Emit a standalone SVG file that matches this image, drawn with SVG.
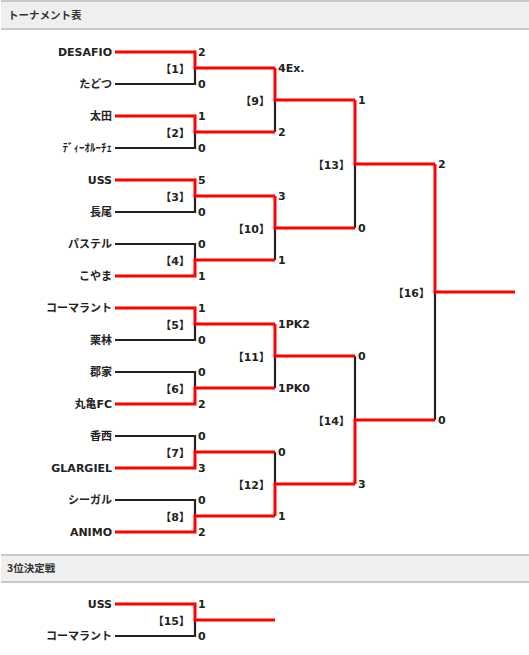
<svg xmlns="http://www.w3.org/2000/svg" width="529" height="655" viewBox="0 0 529 655">
<style>
.hdr{fill:#efefef}
.hl{stroke:#c8c8c8;stroke-width:2}
.ht{font-family:"Noto Sans CJK JP","DejaVu Sans",sans-serif;font-size:10.5px;font-weight:700;fill:#333}
.team{font-family:"DejaVu Sans","Noto Sans CJK JP",sans-serif;font-size:11px;font-weight:700;fill:#222;text-anchor:end}
.sc{font-family:"DejaVu Sans","Noto Sans CJK JP",sans-serif;font-size:11px;font-weight:700;fill:#222}
.lbl{font-family:"DejaVu Sans","Noto Sans CJK JP",sans-serif;font-size:11px;font-weight:700;fill:#222;text-anchor:end}
.blk{fill:none;stroke:#222;stroke-width:2.2}
.red{fill:none;stroke:#ff0000;stroke-width:3}
</style>
<g id="header1">
<rect class="hdr" x="1" y="1" width="528" height="28"/>
<line class="hl" x1="1" y1="1" x2="529" y2="1"/>
<line class="hl" x1="1" y1="29" x2="529" y2="29"/>
<text class="ht" x="8" y="19">トーナメント表</text>
</g>
<g id="header2">
<rect class="hdr" x="1" y="555" width="528" height="27"/>
<line class="hl" x1="1" y1="555" x2="529" y2="555"/>
<line class="hl" x1="1" y1="582" x2="529" y2="582"/>
<text class="ht" x="7" y="572">3位決定戦</text>
</g>
<g id="connectors">
<path class="blk" d="M115,84H195V68 M115,148H195V132 M115,212H195V196 M115,244H195V260 M115,340H195V324 M115,372H195V388 M115,436H195V452 M115,500H195V516 M275,132V100 M275,260V228 M275,388V356 M275,452V484 M355,228V164 M355,356V420 M435,420V292 M115,636H195V620"/>
<path class="red" d="M115,52H195V68H275 M115,116H195V132H275 M115,180H195V196H275 M115,276H195V260H275 M115,308H195V324H275 M115,404H195V388H275 M115,468H195V452H275 M115,532H195V516H275 M275,68V100H355 M275,196V228H355 M275,324V356H355 M275,516V484H355 M355,100V164H435 M355,484V420H435 M435,164V292H515 M115,604H195V620H275"/>
</g>
<g id="t-desafio"><text class="team" x="112" y="56">DESAFIO</text></g>
<g id="t-tadotsu"><text class="team" x="112" y="88">たどつ</text></g>
<g id="t-ota"><text class="team" x="112" y="120">太田</text></g>
<g id="t-dioruche"><text class="team" x="112" y="152">ﾃﾞｨｰｵﾙｰﾁｪ</text></g>
<g id="t-uss"><text class="team" x="112" y="184">USS</text></g>
<g id="t-nagao"><text class="team" x="112" y="216">長尾</text></g>
<g id="t-pastel"><text class="team" x="112" y="248">パステル</text></g>
<g id="t-koyama"><text class="team" x="112" y="280">こやま</text></g>
<g id="t-cormorant"><text class="team" x="112" y="312">コーマラント</text></g>
<g id="t-kuribayashi"><text class="team" x="112" y="344">栗林</text></g>
<g id="t-gunge"><text class="team" x="112" y="376">郡家</text></g>
<g id="t-marugame"><text class="team" x="112" y="408">丸亀FC</text></g>
<g id="t-kozai"><text class="team" x="112" y="440">香西</text></g>
<g id="t-glargiel"><text class="team" x="112" y="472">GLARGIEL</text></g>
<g id="t-seagull"><text class="team" x="112" y="504">シーガル</text></g>
<g id="t-animo"><text class="team" x="112" y="536">ANIMO</text></g>
<g id="t-uss2"><text class="team" x="112" y="608">USS</text></g>
<g id="t-cormorant2"><text class="team" x="112" y="640">コーマラント</text></g>
<g id="m1"><text class="lbl" x="190" y="73">【1】</text><text class="sc" x="198" y="56">2</text><text class="sc" x="198" y="88">0</text></g>
<g id="m2"><text class="lbl" x="190" y="137">【2】</text><text class="sc" x="198" y="120">1</text><text class="sc" x="198" y="152">0</text></g>
<g id="m3"><text class="lbl" x="190" y="201">【3】</text><text class="sc" x="198" y="184">5</text><text class="sc" x="198" y="216">0</text></g>
<g id="m4"><text class="lbl" x="190" y="265">【4】</text><text class="sc" x="198" y="248">0</text><text class="sc" x="198" y="280">1</text></g>
<g id="m5"><text class="lbl" x="190" y="329">【5】</text><text class="sc" x="198" y="312">1</text><text class="sc" x="198" y="344">0</text></g>
<g id="m6"><text class="lbl" x="190" y="393">【6】</text><text class="sc" x="198" y="376">0</text><text class="sc" x="198" y="408">2</text></g>
<g id="m7"><text class="lbl" x="190" y="457">【7】</text><text class="sc" x="198" y="440">0</text><text class="sc" x="198" y="472">3</text></g>
<g id="m8"><text class="lbl" x="190" y="521">【8】</text><text class="sc" x="198" y="504">0</text><text class="sc" x="198" y="536">2</text></g>
<g id="m9"><text class="lbl" x="270" y="105">【9】</text><text class="sc" x="278" y="72">4Ex.</text><text class="sc" x="278" y="136">2</text></g>
<g id="m10"><text class="lbl" x="270" y="233">【10】</text><text class="sc" x="278" y="200">3</text><text class="sc" x="278" y="264">1</text></g>
<g id="m11"><text class="lbl" x="270" y="361">【11】</text><text class="sc" x="278" y="328">1PK2</text><text class="sc" x="278" y="392">1PK0</text></g>
<g id="m12"><text class="lbl" x="270" y="489">【12】</text><text class="sc" x="278" y="456">0</text><text class="sc" x="278" y="520">1</text></g>
<g id="m13"><text class="lbl" x="350" y="169">【13】</text><text class="sc" x="358" y="104">1</text><text class="sc" x="358" y="232">0</text></g>
<g id="m14"><text class="lbl" x="350" y="425">【14】</text><text class="sc" x="358" y="360">0</text><text class="sc" x="358" y="488">3</text></g>
<g id="m16"><text class="lbl" x="430" y="297">【16】</text><text class="sc" x="438" y="168">2</text><text class="sc" x="438" y="424">0</text></g>
<g id="m15"><text class="lbl" x="190" y="625">【15】</text><text class="sc" x="198" y="608">1</text><text class="sc" x="198" y="640">0</text></g>
</svg>
